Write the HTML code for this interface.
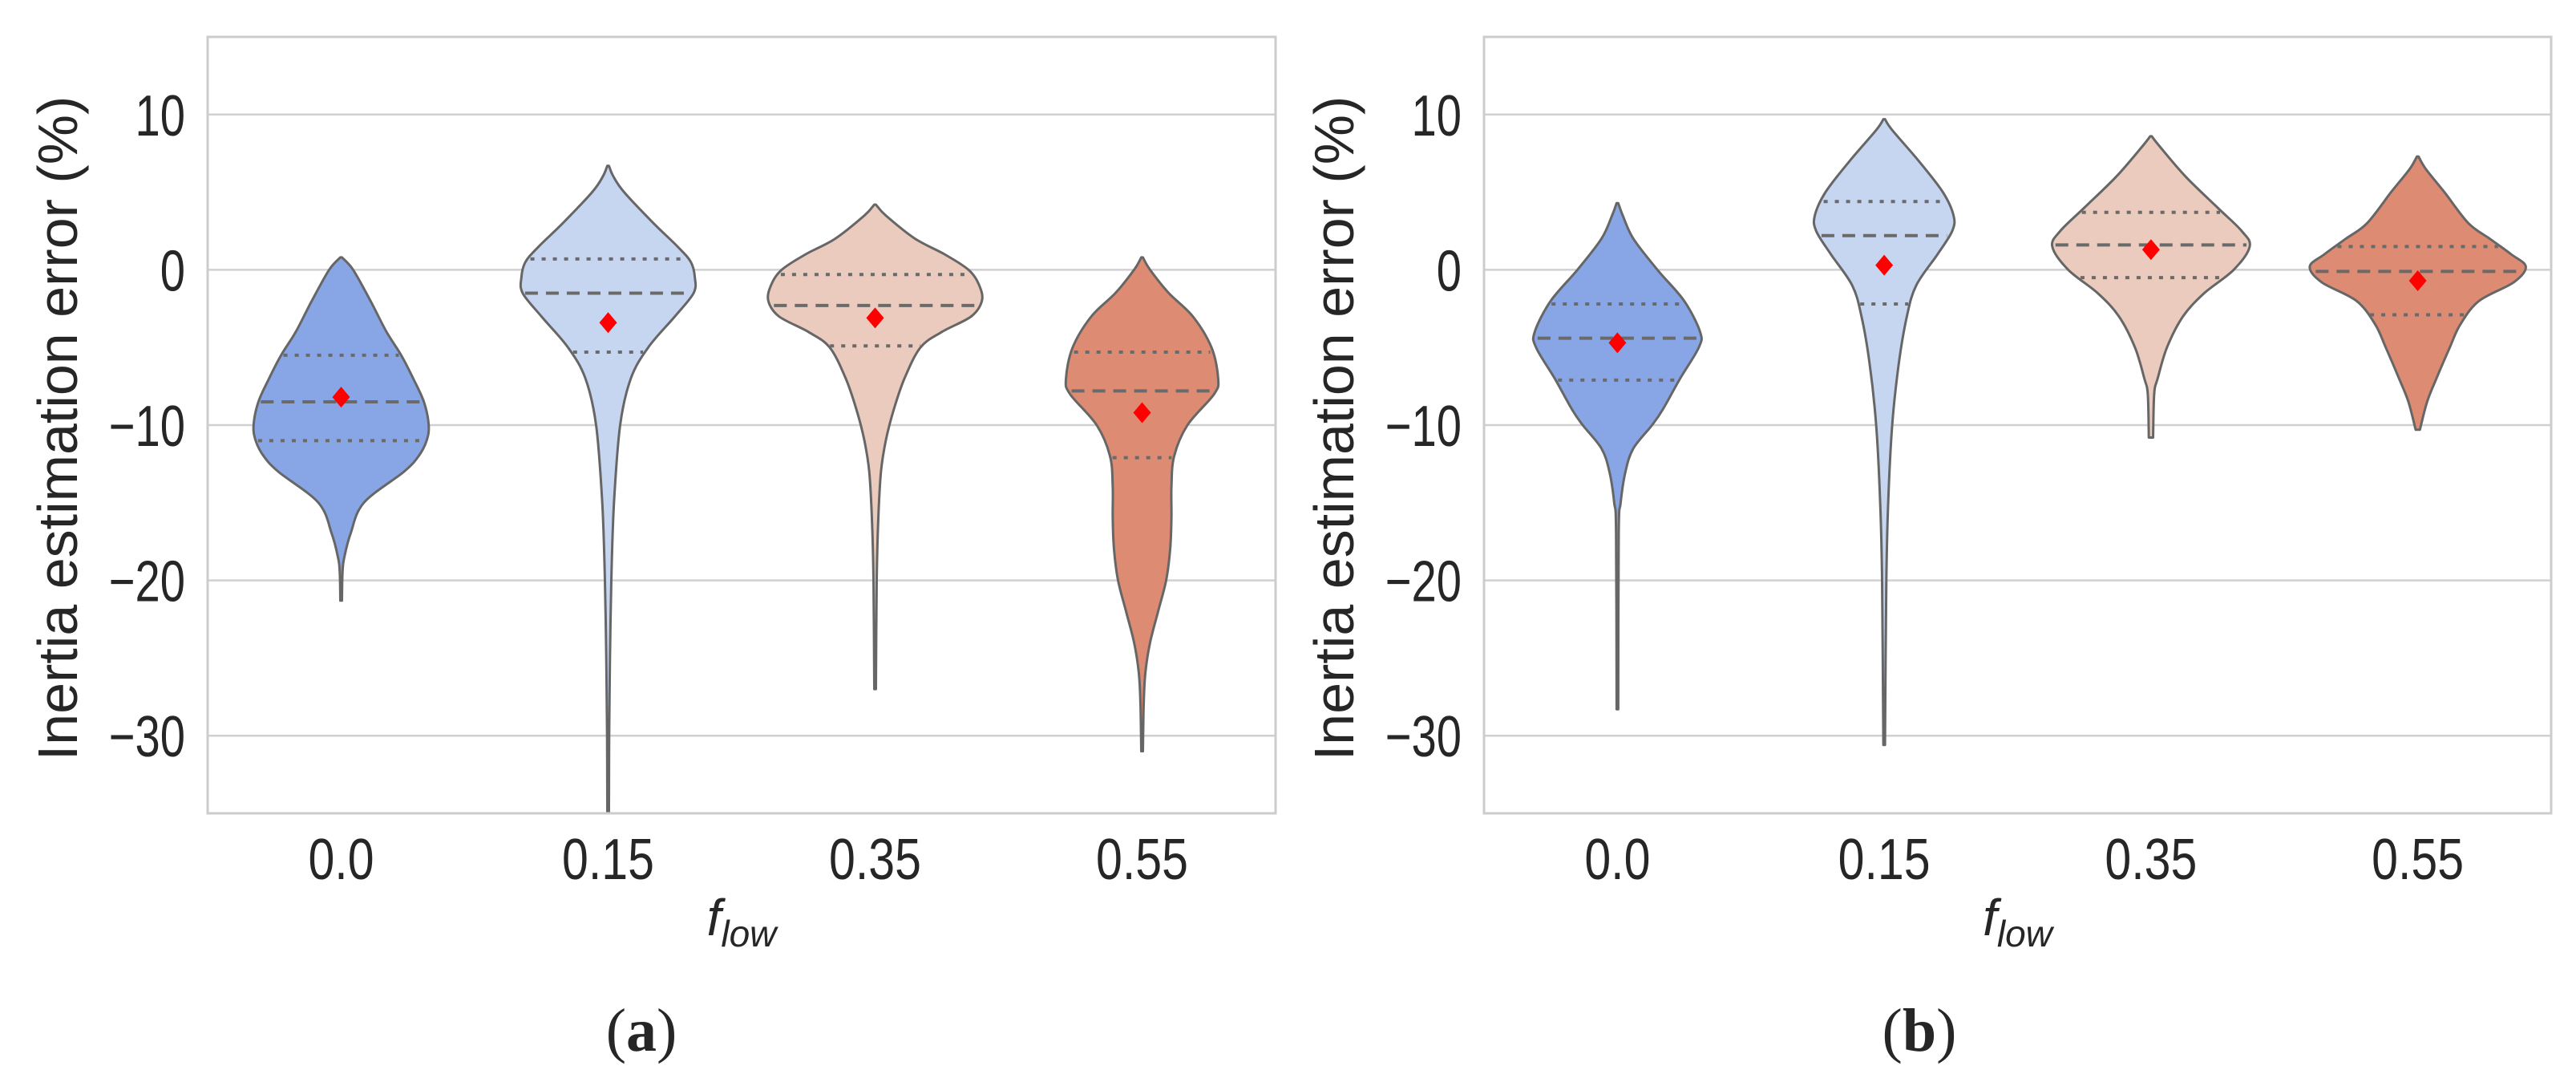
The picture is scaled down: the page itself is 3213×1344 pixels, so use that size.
<!DOCTYPE html>
<html><head><meta charset="utf-8">
<style>
html,body{margin:0;padding:0;background:#fff;}
svg{display:block;}
text{font-family:"Liberation Sans",Arial,sans-serif;fill:#262626;}
</style></head>
<body>
<svg id="chart" width="3213" height="1344" viewBox="0 0 3213 1344" xmlns="http://www.w3.org/2000/svg"></svg>
<script>
const categories = ["0.0","0.15","0.35","0.55"];
const yTicks = [10,0,-10,-20,-30];
const colors = ["#88a6e6","#c6d5f0","#eacbbd","#dd8b73"];
// profiles: [value, half-width in category-units (0..0.4)]
const profA = [
 [[0.8,0.003],[0,0.045],[-2,0.11],[-4,0.17],[-5.5,0.225],[-7,0.27],[-8.5,0.31],[-10,0.328],[-11,0.32],[-12,0.29],[-13,0.235],[-15,0.085],[-17,0.035],[-18.5,0.012],[-19.5,0.005],[-21.3,0.003]],
 [[6.7,0.003],[6,0.02],[5,0.06],[3,0.17],[1.5,0.26],[0.5,0.31],[-0.5,0.325],[-1.5,0.32],[-3,0.25],[-5,0.15],[-7,0.085],[-10,0.045],[-15,0.022],[-20,0.012],[-25,0.007],[-30,0.004],[-35,0.003]],
 [[4.2,0.003],[3.5,0.04],[2,0.15],[1,0.26],[0,0.35],[-1,0.39],[-2,0.4],[-3,0.36],[-4,0.25],[-5,0.17],[-7,0.11],[-9,0.07],[-11,0.04],[-13,0.022],[-16,0.012],[-20,0.006],[-27,0.003]],
 [[0.8,0.003],[0,0.03],[-1.5,0.1],[-3,0.19],[-5,0.26],[-7,0.285],[-8,0.27],[-10,0.17],[-12,0.12],[-14,0.11],[-16,0.11],[-18,0.105],[-20,0.09],[-22,0.06],[-24,0.03],[-26,0.012],[-28,0.006],[-31,0.003]]
];
const profB = [
 [[4.3,0.003],[3.5,0.02],[2,0.06],[0,0.15],[-2,0.25],[-4,0.31],[-5,0.305],[-7,0.235],[-9,0.17],[-10,0.13],[-11.5,0.06],[-13,0.03],[-15,0.012],[-17,0.005],[-28.3,0.003]],
 [[9.7,0.003],[9,0.03],[7,0.13],[5,0.22],[3.5,0.26],[2.5,0.255],[1,0.2],[-1,0.12],[-3,0.085],[-6,0.055],[-10,0.03],[-15,0.015],[-20,0.008],[-30.6,0.003]],
 [[8.6,0.003],[8,0.03],[6,0.13],[4,0.25],[2.5,0.34],[1.5,0.37],[0,0.31],[-1.5,0.2],[-3,0.12],[-5,0.06],[-7,0.025],[-8,0.012],[-10.8,0.008]],
 [[7.3,0.003],[6.5,0.03],[5,0.1],[3,0.19],[2,0.27],[1,0.35],[0.2,0.405],[-0.8,0.36],[-2,0.23],[-3.5,0.16],[-5,0.12],[-7,0.07],[-8.5,0.035],[-10.3,0.008]]
];
const quartA = [[-5.5,-8.5,-11],[0.7,-1.5,-5.3],[-0.3,-2.3,-4.9],[-5.3,-7.8,-12.1]];
const quartB = [[-2.2,-4.4,-7.1],[4.4,2.2,-2.2],[3.7,1.6,-0.5],[1.5,-0.1,-2.9]];
const meansA = [-8.2,-3.4,-3.1,-9.2];
const meansB = [-4.7,0.3,1.3,-0.7];

const NS="http://www.w3.org/2000/svg";
const svg=document.getElementById('chart');
function mk(tag,attrs,parent){const e=document.createElementNS(NS,tag);for(const k in attrs)e.setAttribute(k,attrs[k]);(parent||svg).appendChild(e);return e;}

function smooth(pts){
  let d="M"+pts[0][0].toFixed(1)+","+pts[0][1].toFixed(1);
  for(let i=0;i<pts.length-1;i++){
    const p0=pts[Math.max(0,i-1)],p1=pts[i],p2=pts[i+1],p3=pts[Math.min(pts.length-1,i+2)];
    const c1=[p1[0]+(p2[0]-p0[0])/6,p1[1]+(p2[1]-p0[1])/6];
    const c2=[p2[0]-(p3[0]-p1[0])/6,p2[1]-(p3[1]-p1[1])/6];
    d+=` C${c1[0].toFixed(1)},${c1[1].toFixed(1)} ${c2[0].toFixed(1)},${c2[1].toFixed(1)} ${p2[0].toFixed(1)},${p2[1].toFixed(1)}`;
  }
  return d;
}
function halfAt(prof,v){
  for(let i=0;i<prof.length-1;i++){
    const a=prof[i],b=prof[i+1];
    if(v<=a[0]&&v>=b[0]){const t=(a[0]-v)/(a[0]-b[0]);return a[1]+(b[1]-a[1])*t;}
  }
  return 0;
}

function panel(id,left,right,prof,quart,means,label,capX){
  const top=46,bottom=1014,ymax=15,ymin=-35;
  const g=mk('g',{});
  
  
  const y=v=>top+(ymax-v)/(ymax-ymin)*(bottom-top);
  const band=(right-left)/categories.length;
  const x=i=>left+band*(i+0.5);
  const grid=mk('g',{},g);
  
  
  yTicks.forEach(t=>{
    mk('line',{x1:left,x2:right,y1:y(t),y2:y(t),stroke:'#d0d0d0','stroke-width':2.5},grid);
    const tx=mk('text',{x:0,y:0,'font-size':72,'text-anchor':'end',transform:`translate(${left-28},${y(t)+26}) scale(0.78,1)`},g);
    
    
    tx.textContent=t<0?'\u2212'+(-t):String(t);
  });
  prof.forEach((p,i)=>{
    const cx=x(i);
    const L=p.map(q=>[cx-q[1]*band,y(q[0])]);
    const R=p.slice().reverse().map(q=>[cx+q[1]*band,y(q[0])]);
    const sr=smooth(R);
    const d=smooth(L)+" L"+R[0][0].toFixed(1)+","+R[0][1].toFixed(1)+sr.slice(sr.indexOf(' C'))+" Z";
    const v=mk('path',{d:d,fill:colors[i],stroke:'#666','stroke-width':3,'stroke-linejoin':'round'},g);
    
    
    quart[i].forEach((q,k)=>{
      const h=halfAt(p,q)*band-3;
      const ln=mk('line',{x1:cx-h,x2:cx+h,y1:y(q),y2:y(q),stroke:'#6a6a6a','stroke-width':4,'stroke-dasharray':k==1?'16,10':'5,9'},g);
      
      
    });
    const my=y(means[i]);
    const m=mk('path',{d:`M${cx},${my-13} L${cx+11},${my} L${cx},${my+13} L${cx-11},${my} Z`,fill:'#ff0000'},g);
    
    
    const tl=mk('text',{x:0,y:0,'font-size':72,'text-anchor':'middle',transform:`translate(${cx},1096) scale(0.82,1)`},g);
    
    
    tl.textContent=categories[i];
  });
  const fr=mk('rect',{x:left,y:top,width:right-left,height:bottom-top,fill:'none',stroke:'#cccccc','stroke-width':3},g);
  
  
  const yl=mk('text',{x:0,y:0,'font-size':70,'text-anchor':'middle',transform:`translate(${left-163},${(top+bottom)/2+4}) rotate(-90)`},g);
  
  
  yl.textContent='Inertia estimation error (%)';
  const xl=mk('text',{x:(left+right)/2,y:1166,'font-size':64,'text-anchor':'middle','font-style':'italic'},g);
  
  
  xl.innerHTML='f<tspan font-size="46" dy="14">low</tspan>';
  const cap=mk('text',{x:capX,y:1310,'font-size':76,'text-anchor':'middle',style:'font-family:"Liberation Serif",serif'},g);
  
  
  cap.innerHTML='(<tspan font-weight="bold">'+label+'</tspan>)';
}
panel('a',259,1591,profA,quartA,meansA,'a',800);
panel('b',1851,3182,profB,quartB,meansB,'b',2394);
</script>
</body></html>
